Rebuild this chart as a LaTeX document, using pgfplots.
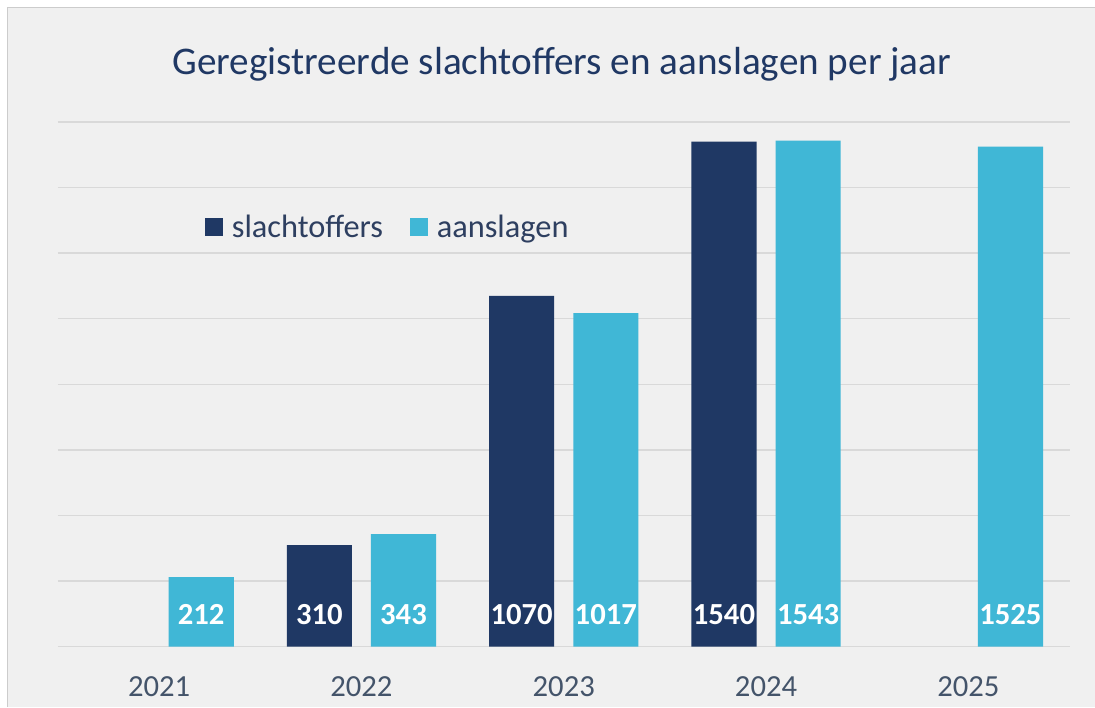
\documentclass[border=0pt]{standalone}
\usepackage{pgfplots}
\pgfplotsset{compat=1.18}
\usepackage{fontspec}
\setmainfont{Carlito}
\definecolor{dark}{HTML}{1F3864}
\definecolor{light}{HTML}{40B7D6}
\definecolor{bg}{HTML}{F0F0F0}
\definecolor{gridc}{HTML}{D9D9D9}
\definecolor{txt}{HTML}{44546A}
\definecolor{ttl}{HTML}{203864}
\definecolor{legtxt}{HTML}{2E3F60}
\begin{document}
\begin{tikzpicture}
\fill[white] (0pt,0pt) rectangle (821.25pt,530.25pt);
\fill[bg] (6pt,0pt) rectangle (821.25pt,524.25pt);
\draw[color=gridc!85!gray, line width=0.75pt] (6pt,0pt) -- (6pt,524.25pt) -- (821.25pt,524.25pt);
\begin{axis}[
  at={(43.5pt,45pt)}, anchor=south west,
  scale only axis, width=759pt, height=393.75pt,
  xmin=-0.5, xmax=4.5, ymin=0, ymax=1600,
  xtick={0,1,2,3,4}, xticklabels={2021,2022,2023,2024,2025},
  ytick={0,200,...,1600}, yticklabels={},
  ymajorgrids, grid style={color=gridc, line width=1.1pt},
  axis line style={draw=none}, major tick length=0pt,
  xticklabel style={font=\fontsize{23}{27}\selectfont, text=txt, anchor=center, yshift=-30pt},
  title={Geregistreerde slachtoffers en aanslagen per jaar},
  title style={at={(0.498,1.095)}, anchor=center, font=\fontsize{29.4}{34}\selectfont, text=ttl},
  legend columns=2,
  legend style={at={(0.145,0.8)}, anchor=west, draw=none, fill=none, inner sep=0pt,
    nodes={inner sep=0pt},
    font=\fontsize{24.3}{29}\selectfont\color{legtxt},
    /tikz/every odd column/.append style={column sep=6.75pt},
    /tikz/every even column/.append style={column sep=20pt}},
  legend image code/.code={\fill[#1,draw=none] (0pt,-6.75pt) rectangle (13.5pt,6.75pt);},
  /pgf/number format/assume math mode=true,
  /pgf/number format/1000 sep={},
  visualization depends on={y \as \rawy},
  nodes near coords={\pgfmathprintnumber{\pgfplotspointmeta}},
  every node near coord/.append style={anchor=center, yshift={24-\rawy*0.24609375},
    font=\fontsize{23}{27}\selectfont\bfseries, text=white},
]
\addplot[ybar, bar width=0.322, bar shift=-0.208, fill=dark, draw=none,
  every node near coord/.append style={xshift=-31.57pt}]
  coordinates {(1,310) (2,1070) (3,1540)};
\addlegendentry{slachtoffers}
\addplot[ybar, bar width=0.322, bar shift=0.208, fill=light, draw=none,
  every node near coord/.append style={xshift=31.57pt}]
  coordinates {(0,212) (1,343) (2,1017) (3,1543) (4,1525)};
\addlegendentry{aanslagen}
\end{axis}
\end{tikzpicture}
\end{document}
